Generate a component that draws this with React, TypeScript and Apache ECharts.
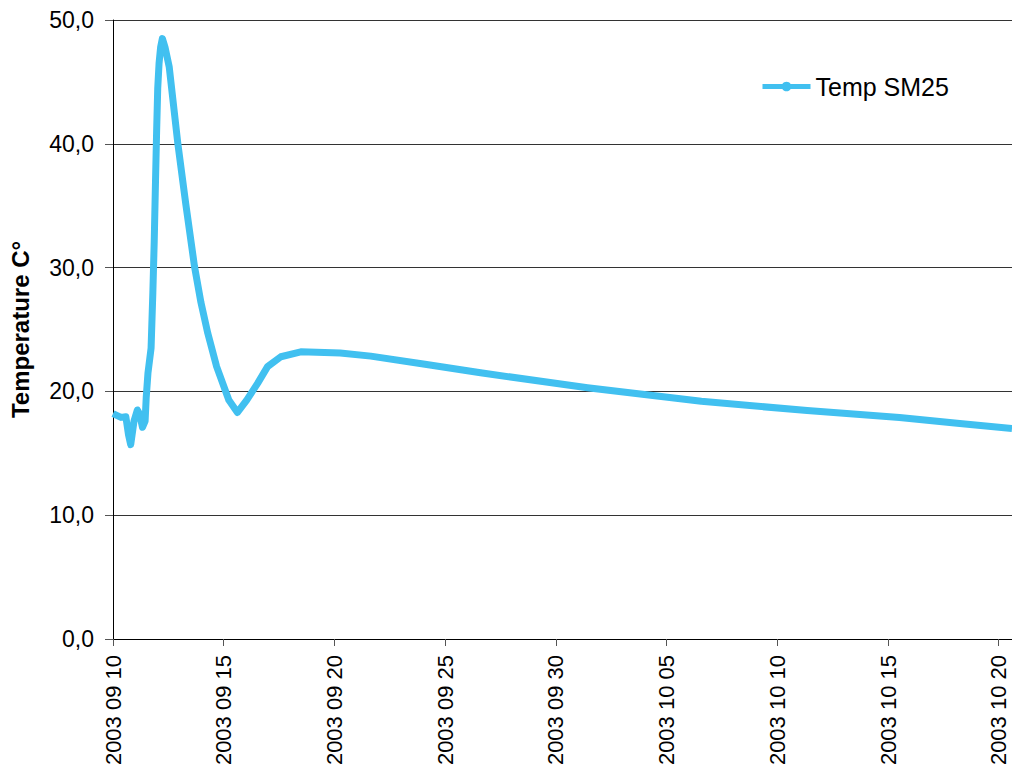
import React, { useEffect, useRef } from "react";
import * as echarts from "echarts";

// Days since 2003-09-10 00:00
const days = [
  0, 0.36, 0.58, 0.7, 0.8, 0.95, 1.1, 1.2, 1.33, 1.45, 1.5, 1.58, 1.72, 1.8, 1.86, 1.92, 1.97, 2.02,
  2.08, 2.15, 2.23, 2.35, 2.54, 2.93, 3.29, 3.68, 3.97, 4.28, 4.68, 5.23, 5.62, 6.04, 6.53, 6.98, 7.58,
  8.48, 10.26, 11.64, 14.09, 16.6, 21.43, 26.57, 31.35, 35.52, 38.24, 40.6,
];
const temps = [
  18.2, 17.9, 17.95, 16.5, 15.7, 17.6, 18.5, 18.2, 17.1, 17.6, 19.5, 21.5, 23.5, 28.0, 32.0, 37.0, 41.0,
  44.5, 46.5, 47.8, 48.5, 47.8, 46.2, 40.0, 35.1, 30.1, 27.2, 24.7, 22.0, 19.3, 18.3, 19.3, 20.65, 22.0,
  22.8, 23.2, 23.1, 22.85, 22.2, 21.5, 20.3, 19.2, 18.45, 17.9, 17.4, 17.0,
];
const seriesName = "Temp SM25";
const yTitle = "Temperature C°";
const startDate = Date.UTC(2003, 8, 10);

const pad = (n: number) => (n < 10 ? "0" + n : "" + n);
const fmtDate = (v: number) => {
  const d = new Date(startDate + Math.round(v) * 86400000);
  return `${d.getUTCFullYear()} ${pad(d.getUTCMonth() + 1)} ${pad(d.getUTCDate())}`;
};

export default function App() {
  const ref = useRef<HTMLDivElement>(null);
  useEffect(() => {
    if (!ref.current) return;
    const chart = echarts.init(ref.current, undefined, { renderer: "svg" });
    const font = "'Liberation Sans', Arial, sans-serif";
    const blue = "#41C0F0";
    chart.setOption({
      animation: false,
      backgroundColor: "#fff",
      grid: { left: 112, top: 20, width: 900, height: 619, containLabel: false },
      legend: {
        show: true,
        left: 755,
        top: 69,
        itemWidth: 48,
        itemHeight: 12,
        itemGap: 8,
        textStyle: { fontFamily: font, fontSize: 25, color: "#000" },
        lineStyle: { width: 5 },
        data: [seriesName],
      },
      xAxis: {
        type: "value",
        min: 0,
        max: 40.6,
        interval: 5,
        axisLine: { show: true, lineStyle: { color: "#000", width: 1 } },
        axisTick: { show: true, inside: false, length: 7, lineStyle: { color: "#555" } },
        splitLine: { show: false },
        axisLabel: {
          rotate: 90,
          margin: 16,
          fontFamily: font,
          fontSize: 22,
          color: "#000",
          showMaxLabel: false,
          formatter: (v: number) => (Math.abs(v % 5) < 1e-6 ? fmtDate(v) : ""),
        },
      },
      yAxis: {
        type: "value",
        min: 0,
        max: 50,
        interval: 10,
        name: yTitle,
        nameLocation: "middle",
        nameGap: 81,
        nameRotate: 90,
        nameTextStyle: { fontFamily: font, fontSize: 24, fontWeight: "bold", color: "#000" },
        axisLine: { show: true, lineStyle: { color: "#000", width: 1 } },
        axisTick: { show: true, inside: false, length: 8, lineStyle: { color: "#555" } },
        splitLine: { show: true, lineStyle: { color: "#333", width: 1 } },
        axisLabel: {
          margin: 19,
          fontFamily: font,
          fontSize: 23,
          color: "#000",
          formatter: (v: number) => v.toFixed(1).replace(".", ","),
        },
      },
      series: [
        {
          name: seriesName,
          type: "line",
          data: days.map((d, i) => [d, temps[i]]),
          symbol: "none",
          lineStyle: { color: blue, width: 7, join: "round", cap: "butt" },
          itemStyle: { color: blue },
        },
      ],
    });
    return () => chart.dispose();
  }, []);
  return (
    <div
      ref={ref}
      style={{ position: "absolute", left: 0, top: 0, width: 1012, height: 780 }}
    />
  );
}
